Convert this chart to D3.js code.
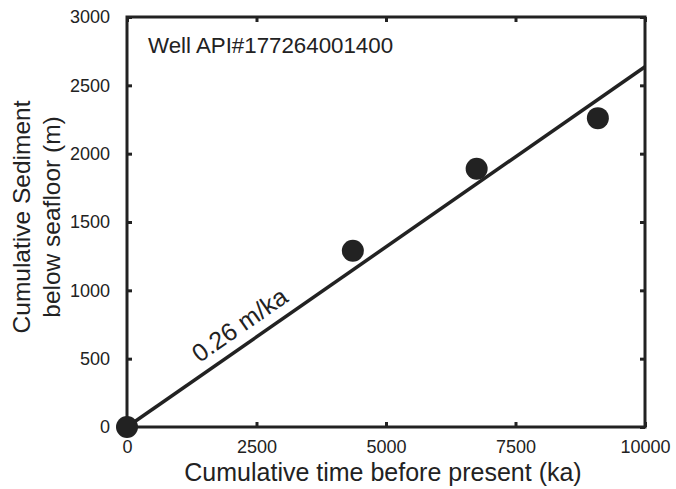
<!DOCTYPE html>
<html><head><meta charset="utf-8">
<script src="https://cdn.jsdelivr.net/npm/d3@7"></script>
<style>body{margin:0;background:#fff}svg{display:block}text{font-family:"Liberation Sans",Arial,sans-serif;fill:#222}</style>
</head><body><svg id="c" width="676" height="489"></svg>
<script>
const timeKa = [0, 4360, 6750, 9090];
const sedimentM = [0, 1290, 1890, 2260];
const fitX = [0, 10000];
const fitY = [0, 2636];
const xTicks = [0, 2500, 5000, 7500, 10000];
const yTicks = [0, 500, 1000, 1500, 2000, 2500, 3000];
const title = "Well API#177264001400";
const rateLabel = "0.26 m/ka";

const svg = d3.select("#c");
const L = 127, R = 645, T = 17, B = 427;
const x = d3.scaleLinear().domain([0, 10000]).range([L, R]);
const y = d3.scaleLinear().domain([0, 3000]).range([B, T]);
const ink = "#222";

// frame
svg.append("rect").attr("x", L).attr("y", T).attr("width", R - L).attr("height", B - T)
  .attr("fill", "none").attr("stroke", ink).attr("stroke-width", 3);

// axes with inward ticks
const ax = svg.append("g").attr("transform", `translate(0,${B})`)
  .call(d3.axisBottom(x).tickValues(xTicks).tickSize(-5).tickPadding(13).tickFormat(d3.format("d")));
const ay = svg.append("g").attr("transform", `translate(${L},0)`)
  .call(d3.axisLeft(y).tickValues(yTicks).tickSize(-5).tickPadding(17).tickFormat(d3.format("d")));
const axT = svg.append("g").attr("transform", `translate(0,${T})`)
  .call(d3.axisTop(x).tickValues(xTicks).tickSize(-5).tickFormat(""));
const ayR = svg.append("g").attr("transform", `translate(${R},0)`)
  .call(d3.axisRight(y).tickValues(yTicks).tickSize(-5).tickFormat(""));
[ax, ay, axT, ayR].forEach(g => {
  g.select(".domain").remove();
  g.selectAll(".tick line").attr("stroke", ink).attr("stroke-width", 3);
  g.selectAll(".tick text").attr("font-size", 18).attr("fill", ink)
    .style("font-family", "'Liberation Sans',Arial,sans-serif");
});

// fit line
svg.append("line").attr("x1", x(fitX[0])).attr("y1", y(fitY[0]))
  .attr("x2", x(fitX[1])).attr("y2", y(fitY[1]))
  .attr("stroke", ink).attr("stroke-width", 3.5);

// points
svg.selectAll("circle.pt").data(timeKa.map((t, i) => [t, sedimentM[i]])).enter()
  .append("circle").attr("class", "pt")
  .attr("cx", d => x(d[0])).attr("cy", d => y(d[1])).attr("r", 11).attr("fill", ink);

// rate label
const ang = Math.atan2(y(fitY[1]) - y(fitY[0]), x(fitX[1]) - x(fitX[0])) * 180 / Math.PI;
const lxD = 2390;
const lx = x(lxD), ly = y(lxD * fitY[1] / fitX[1]);
svg.append("text").attr("text-anchor", "middle")
  .attr("transform", `translate(${lx},${ly}) rotate(${ang})`).attr("y", -11)
  .attr("font-size", 25).text(rateLabel);

// title
svg.append("text").attr("x", 148).attr("y", 53).attr("font-size", 22.3).text(title);

// axis titles
svg.append("text").attr("x", 383).attr("y", 481).attr("text-anchor", "middle")
  .attr("font-size", 25).text("Cumulative time before present (ka)");
const yt = svg.append("text").attr("transform", `translate(0,217) rotate(-90)`)
  .attr("text-anchor", "middle").attr("font-size", 24.5);
yt.append("tspan").attr("x", 0).attr("y", 30).text("Cumulative Sediment");
yt.append("tspan").attr("x", 0).attr("y", 60).text("below seafloor (m)");
</script></body></html>
